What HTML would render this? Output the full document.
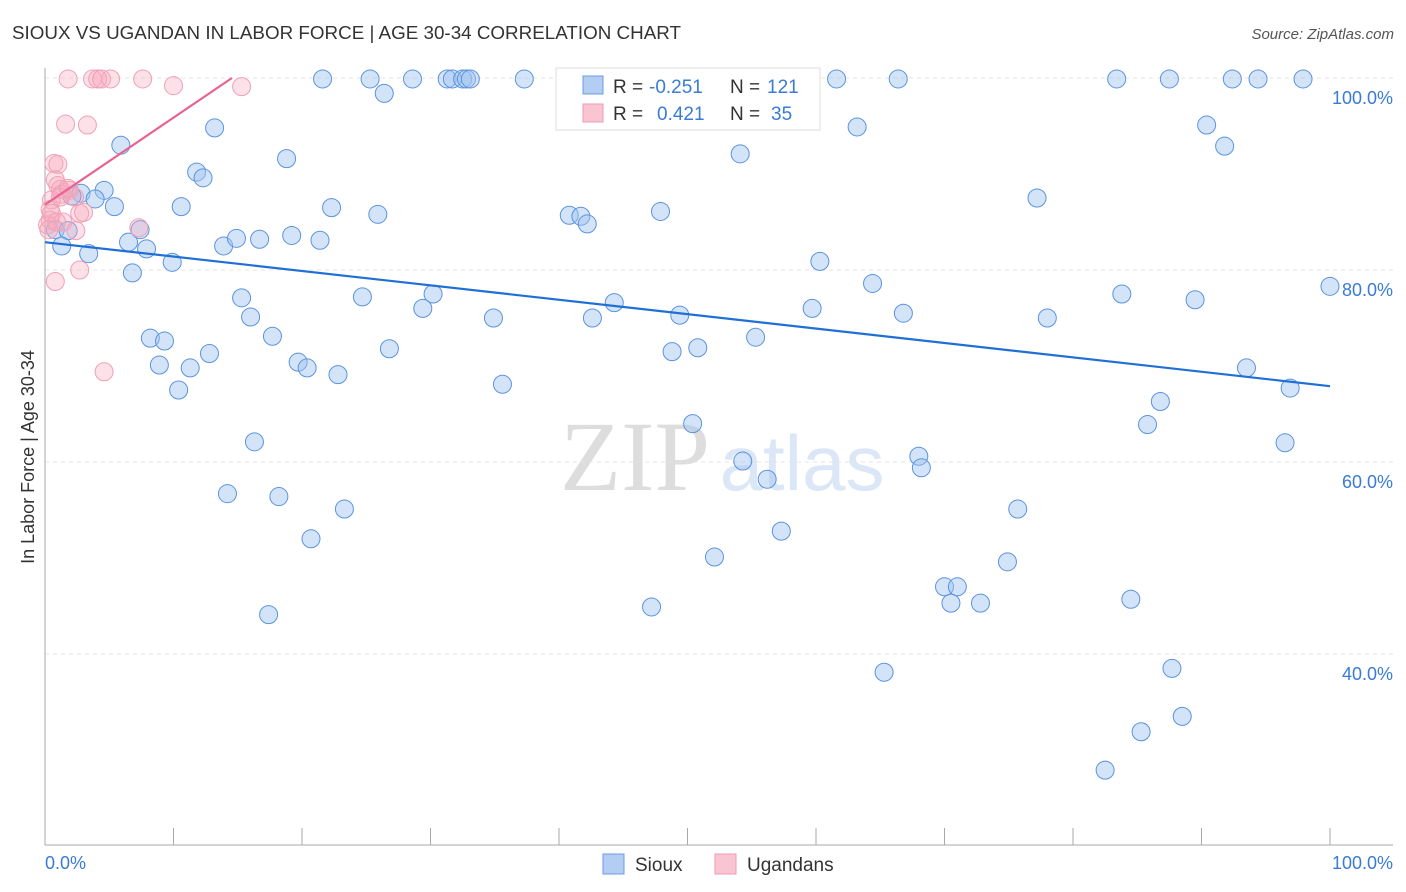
<!DOCTYPE html>
<html><head><meta charset="utf-8"><style>
body{margin:0;background:#fff;font-family:"Liberation Sans",sans-serif;}
svg{display:block}
</style></head><body>
<svg id="c" width="1406" height="892">
<text x="12" y="39" font-size="18" fill="#333" textLength="669" lengthAdjust="spacingAndGlyphs">SIOUX VS UGANDAN IN LABOR FORCE | AGE 30-34 CORRELATION CHART</text>
<text x="1394" y="39" font-size="15" fill="#555" font-style="italic" text-anchor="end">Source: ZipAtlas.com</text>
<text x="635" y="490" font-size="100" fill="#ddd" font-family="Liberation Serif,serif" text-anchor="middle">ZIP</text>
<text x="802" y="490" font-size="78" fill="#dbe7f7" text-anchor="middle">atlas</text>
<g id="grid"></g><g id="pts"></g><g id="lines"></g>
<text transform="translate(34,457) rotate(-90)" font-size="18" fill="#333" text-anchor="middle">In Labor Force | Age 30-34</text>
<text x="45" y="869" font-size="18" fill="#3a7bd5">0.0%</text>
<text x="1393" y="869" font-size="18" fill="#3a7bd5" text-anchor="end">100.0%</text>
<g>
<rect x="556" y="68" width="264" height="62" fill="#fff" stroke="#ddd"/>
<rect x="583" y="76" width="20" height="18" fill="#b3cdf3" stroke="#6a9be0"/>
<text x="613" y="93" font-size="19" fill="#333">R = </text><text x="649" y="93" font-size="19" fill="#3a7bd5">-0.251</text>
<text x="730" y="93" font-size="19" fill="#333">N = </text><text x="767" y="93" font-size="19" fill="#3a7bd5">121</text>
<rect x="583" y="104" width="20" height="18" fill="#f9c5d3" stroke="#ee9ab4"/>
<text x="613" y="120" font-size="19" fill="#333">R = </text><text x="657" y="120" font-size="19" fill="#3a7bd5">0.421</text>
<text x="730" y="120" font-size="19" fill="#333">N = </text><text x="771" y="120" font-size="19" fill="#3a7bd5">35</text>
</g>
<g><rect x="603" y="854" width="21" height="20" fill="#b3cdf3" stroke="#6a9be0"/><text x="635" y="871" font-size="19" fill="#333">Sioux</text></g>
<g><rect x="715" y="854" width="21" height="20" fill="#f9c5d3" stroke="#ee9ab4"/><text x="747" y="871" font-size="19" fill="#333">Ugandans</text></g>
</svg>
<script>
const blueX=[21.6,25.3,26.4,28.6,31.3,31.7,32.5,32.8,33.1,37.3,46.5,55.6,61.6,66.4,83.4,87.5,92.4,94.4,97.9,5.9,13.2,18.8,11.8,12.3,54.1,63.2,90.4,91.8,77.2,2.8,4.6,3.9,2.1,5.4,10.6,22.3,25.9,40.8,41.7,42.2,47.9,0.8,1.8,7.4,6.5,7.9,1.3,3.4,9.9,13.9,14.9,16.7,19.2,21.4,60.3,6.8,15.3,16.0,24.7,30.2,29.4,34.9,42.6,44.3,49.4,59.7,64.4,66.8,78.0,83.8,89.5,100,8.2,9.3,17.7,12.8,8.9,11.3,19.7,20.4,22.8,26.8,10.4,35.6,48.8,50.8,55.3,93.5,96.9,50.4,86.8,85.8,16.3,96.5,54.3,56.2,68.0,68.2,14.2,18.2,23.3,20.7,52.1,57.3,75.7,74.9,17.4,47.2,70.0,71.0,70.5,72.8,84.5,65.3,87.7,88.5,85.3,82.5];
const blueY=[99.9,99.9,98.4,99.9,99.9,99.9,99.9,99.9,99.9,99.9,99.9,99.9,99.9,99.9,99.9,99.9,99.9,99.9,99.9,93.0,94.8,91.6,90.2,89.6,92.1,94.9,95.1,92.9,87.5,88.0,88.3,87.4,87.7,86.6,86.6,86.5,85.8,85.7,85.6,84.8,86.1,84.2,84.1,84.2,82.9,82.2,82.5,81.7,80.8,82.5,83.3,83.2,83.6,83.1,80.9,79.7,77.1,75.1,77.2,77.5,76.0,75.0,75.0,76.6,75.3,76.0,78.6,75.5,75.0,77.5,76.9,78.3,72.9,72.6,73.1,71.3,70.1,69.8,70.4,69.8,69.1,71.8,67.5,68.1,71.5,71.9,73.0,69.8,67.7,64.0,66.3,63.9,62.1,62.0,60.1,58.2,60.6,59.4,56.7,56.4,55.1,52.0,50.1,52.8,55.1,49.6,44.1,44.9,47.0,47.0,45.3,45.3,45.7,38.1,38.5,33.5,31.9,27.9];
const pinkX=[1.8,3.7,4.1,4.4,5.1,7.6,10.0,15.3,1.6,3.3,0.7,1.0,0.8,1.2,1.0,1.9,1.3,2.3,0.5,0.4,2.7,3.0,0.4,1.4,0.2,2.4,7.3,0.8,2.7,4.6,1.2,1.8,0.5,0.3,0.9];
const pinkY=[99.9,99.9,99.9,99.9,99.9,99.9,99.2,99.1,95.2,95.1,91.1,91.0,89.4,88.4,88.8,88.3,87.9,87.6,87.3,86.3,85.9,86.0,85.2,85.0,84.7,84.1,84.4,78.8,80.0,69.4,87.6,88.5,85.9,84.2,85.0];
const blueTrend=[82.9,67.9];
const pinkTrend=[86.8,100.0,14.55];
const yTicks=[100,80,60,40];
const yTickLabels=["100.0%","80.0%","60.0%","40.0%"];
const NS="http://www.w3.org/2000/svg";
const sx=v=>45+v*12.85, sy=v=>78+(100-v)*9.6;
function mk(t,a,p){const e=document.createElementNS(NS,t);for(const k in a)e.setAttribute(k,a[k]);p.appendChild(e);return e;}
const grid=document.getElementById('grid');
yTicks.forEach((t,i)=>{
 const l=mk('line',{x1:45,x2:1393,y1:sy(t),y2:sy(t),stroke:'#e4e4e4','stroke-dasharray':'4,4'},grid);
 
 
 const tx=mk('text',{x:1393,y:sy(t)+26,'font-size':18,fill:'#3a7bd5','text-anchor':'end'},grid);
 tx.textContent=yTickLabels[i];
 
 
});
const ax=mk('line',{x1:45,x2:45,y1:68,y2:845,stroke:'#aaa'},grid);


const bx=mk('line',{x1:45,x2:1393,y1:845,y2:845,stroke:'#aaa'},grid);


for(let k=0;k<=10;k++){
 const t=mk('line',{x1:sx(k*10),x2:sx(k*10),y1:828,y2:845,stroke:'#aaa'},grid);
 
 
}
const pts=document.getElementById('pts');
blueX.forEach((x,i)=>{
 const c=mk('circle',{cx:sx(x),cy:sy(blueY[i]),r:9,fill:'rgba(160,195,240,0.45)',stroke:'#5b93e0','stroke-width':1},pts);
 
 
});
pinkX.forEach((x,i)=>{
 const c=mk('circle',{cx:sx(x),cy:sy(pinkY[i]),r:9,fill:'rgba(245,170,190,0.35)',stroke:'#f0a0b8','stroke-width':1},pts);
 
 
});
const lines=document.getElementById('lines');
const bl=mk('line',{x1:sx(0),y1:sy(blueTrend[0]),x2:sx(100),y2:sy(blueTrend[1]),stroke:'#1f6fd6','stroke-width':2.2},lines);


const pl=mk('line',{x1:sx(0),y1:sy(pinkTrend[0]),x2:sx(pinkTrend[2]),y2:sy(pinkTrend[1]),stroke:'#e8638f','stroke-width':2.2},lines);


</script>
</body></html>
